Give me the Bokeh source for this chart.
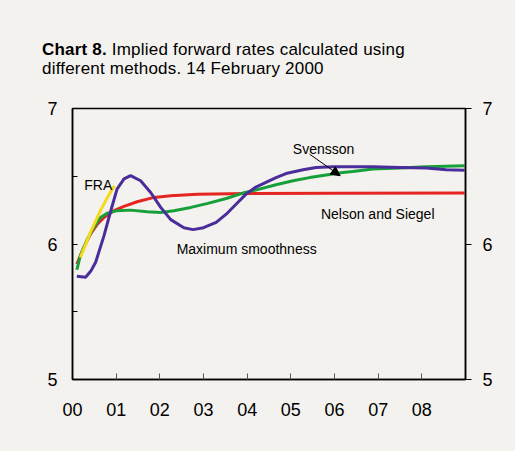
from bokeh.plotting import figure
from bokeh.models import LinearAxis, FixedTicker, Arrow, NormalHead, Range1d, Div
from bokeh.layouts import column
from bokeh.core.properties import value
from bokeh.embed import file_html
from bokeh.resources import INLINE

# ---- data ----
title_bold = "Chart 8."
title_line1 = "Implied forward rates calculated using"
title_line2 = "different methods. 14 February 2000"

x_ticks = [0, 1, 2, 3, 4, 5, 6, 7, 8]
x_tick_labels = ["00", "01", "02", "03", "04", "05", "06", "07", "08"]

max_smooth_x = [0.10, 0.30, 0.42, 0.53, 0.72, 0.89, 1.02, 1.18, 1.33, 1.56, 1.79, 2.02, 2.25, 2.55, 2.76,
                3.00, 3.29, 3.52, 3.75, 3.98, 4.20, 4.43, 4.66, 4.89, 5.28, 5.58, 5.96, 6.88, 7.49, 8.10,
                8.56, 8.98]
max_smooth_y = [5.762, 5.755, 5.80, 5.865, 6.06, 6.26, 6.405, 6.48, 6.504, 6.467, 6.38, 6.27, 6.18, 6.12, 6.106,
                6.12, 6.16, 6.22, 6.295, 6.37, 6.42, 6.455, 6.49, 6.52, 6.548, 6.565, 6.57, 6.57, 6.565, 6.56,
                6.548, 6.545]

nelson_x = [0.10, 0.26, 0.41, 0.57, 0.72, 0.95, 1.18, 1.48, 1.87, 2.25, 2.86, 4.0, 6.0, 8.98]
nelson_y = [5.852, 5.975, 6.073, 6.147, 6.196, 6.246, 6.278, 6.312, 6.344, 6.356, 6.368, 6.372, 6.375, 6.376]

svensson_x = [0.10, 0.18, 0.34, 0.49, 0.64, 0.80, 1.02, 1.33, 1.71, 2.02, 2.32, 2.71, 3.10, 3.52, 3.90,
              4.28, 4.66, 5.05, 5.43, 5.81, 6.19, 6.42, 6.88, 7.49, 8.10, 8.98]
svensson_y = [5.81, 5.914, 6.037, 6.123, 6.196, 6.228, 6.246, 6.25, 6.238, 6.233, 6.246, 6.27, 6.30, 6.336, 6.376,
              6.405, 6.437, 6.467, 6.49, 6.51, 6.528, 6.535, 6.553, 6.56, 6.57, 6.577]

fra_x = [0.18, 0.41, 0.64, 0.80, 0.96]
fra_y = [5.90, 6.086, 6.246, 6.344, 6.43]

FONT = "Liberation Sans"
BG = "#f4f2ee"
TITLE_H = 90

title = Div(text=(f'<div style="margin:0;padding:40px 0 0 42px;font-family:\'Liberation Sans\';'
                  f'font-size:17px;line-height:19px;letter-spacing:0.2px;color:#000;">'
                  f'<b>{title_bold}</b> {title_line1}<br>{title_line2}</div>'),
            width=515, height=TITLE_H, margin=0, styles={"background-color": BG})

p = figure(width=515, height=451 - TITLE_H, output_backend="svg", toolbar_location=None,
           x_range=Range1d(0, 9), y_range=Range1d(5, 7),
           background_fill_color=BG, border_fill_color=BG, margin=0,
           min_border_left=72, min_border_right=50, min_border_top=108 - TITLE_H, min_border_bottom=72)
p.frame_width = 393
p.frame_height = 271
p.grid.visible = False
p.outline_line_color = "black"
p.outline_line_width = 1.5

# x axis
xa = p.xaxis[0]
xa.ticker = FixedTicker(ticks=x_ticks)
xa.major_label_overrides = {t: l for t, l in zip(x_ticks, x_tick_labels)}
xa.major_tick_in = 6
xa.major_tick_out = 0
xa.minor_tick_line_color = None
xa.major_label_standoff = 23
xa.major_label_text_font = FONT
xa.major_label_text_font_size = "18px"
xa.major_label_text_color = "black"
xa.axis_line_width = 1.5
xa.major_tick_line_color = "#555555"

# left y axis
ya = p.yaxis[0]
ya.ticker = FixedTicker(ticks=[5, 5.5, 6, 6.5, 7])
ya.major_label_overrides = {5: "5", 5.5: "", 6: "6", 6.5: "", 7: "7"}
ya.major_tick_in = 5
ya.major_tick_out = 0
ya.minor_tick_line_color = None
ya.major_label_standoff = 15
ya.major_label_text_font = FONT
ya.major_label_text_font_size = "18px"
ya.major_label_text_color = "black"
ya.axis_line_width = 1.5

# right y axis
ra = LinearAxis(ticker=FixedTicker(ticks=[5, 6, 7]))
ra.major_tick_in = 0
ra.major_tick_out = 6
ra.minor_tick_line_color = None
ra.major_label_standoff = 11
ra.major_label_text_font = FONT
ra.major_label_text_font_size = "18px"
ra.major_label_text_color = "black"
ra.axis_line_width = 1.5
p.add_layout(ra, "right")

# series
p.line(nelson_x, nelson_y, line_color="#e52521", line_width=3)
p.line(svensson_x, svensson_y, line_color="#17a03a", line_width=3)
p.line(max_smooth_x, max_smooth_y, line_color="#4a2d9b", line_width=3)
p.line(fra_x, fra_y, line_color="#f5d91a", line_width=3)

# annotations
ann = dict(text_font=value(FONT), text_font_size="14px", text_color="black", text_baseline="middle")
p.text(x=[0.27], y=[6.434], text=["FRA"], **ann)
p.text(x=[2.385], y=[5.963], text=["Maximum smoothness"], **ann)
p.text(x=[5.046], y=[6.698], text=["Svensson"], **ann)
p.text(x=[5.688], y=[6.221], text=["Nelson and Siegel"], **ann)
p.add_layout(Arrow(x_start=5.43, y_start=6.663, x_end=6.13, y_end=6.504, line_color="black", line_width=1,
                   end=NormalHead(size=9, fill_color="black", line_color="black")))

layout = column(title, p, spacing=0, margin=0, styles={"background-color": BG})

open("out.html", "w").write(file_html(layout, INLINE))
